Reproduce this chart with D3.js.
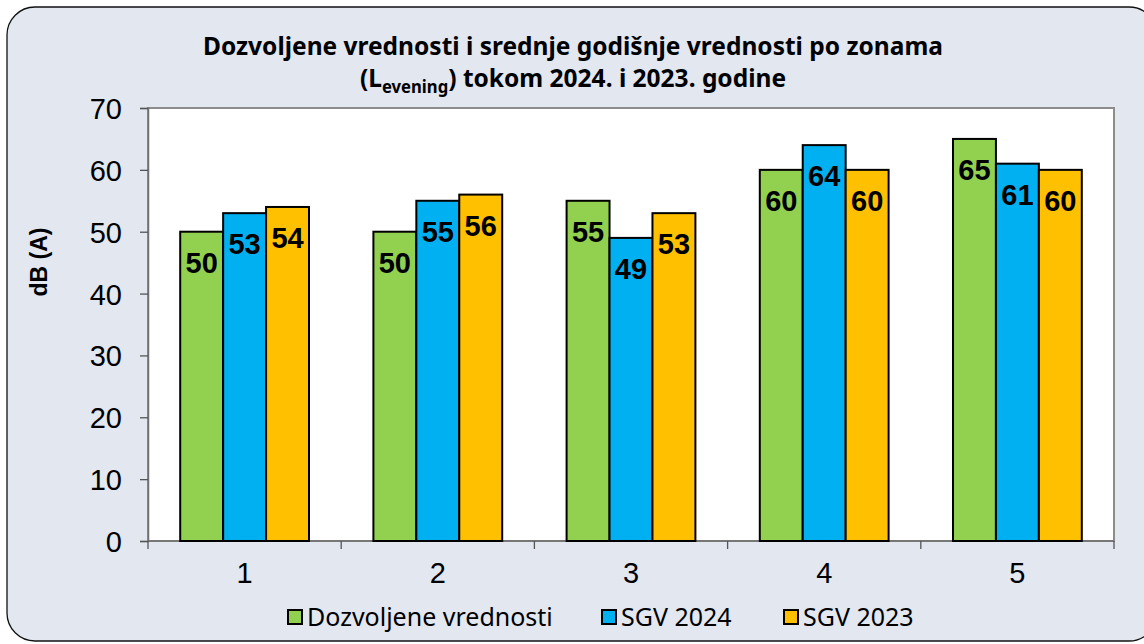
<!DOCTYPE html>
<html>
<head>
<meta charset="utf-8">
<style>
  body { margin: 0; background: #fff; }
  .tick-lbl { font-family: Arial, "Liberation Sans", sans-serif; font-size: 29px; fill: #000; }
  .val-lbl { font-family: Arial, "Liberation Sans", sans-serif; font-size: 29px; font-weight: bold; fill: #000; text-anchor: middle; }
  .legend text { font-family: "Noto Sans", sans-serif; font-size: 25px; fill: #000; }
</style>
</head>
<body>
<svg width="1144" height="644"></svg>
<script src="https://cdnjs.cloudflare.com/ajax/libs/d3/7.8.5/d3.min.js"></script>
<script>
var zones = ["1", "2", "3", "4", "5"];
var series = ["Dozvoljene vrednosti", "SGV 2024", "SGV 2023"];
var dozvoljene = [50, 50, 55, 60, 65];
var sgv2024 = [53, 55, 49, 64, 61];
var sgv2023 = [54, 56, 53, 60, 60];
var yTicks = [0, 10, 20, 30, 40, 50, 60, 70];
var colors = ["#92d050", "#00b0f0", "#ffc000"];

var values = [dozvoljene, sgv2024, sgv2023];

var svg = d3.select("svg"),
    width = +svg.attr("width"),
    height = +svg.attr("height");

// chart area background
svg.append("rect")
    .attr("x", 7).attr("y", 7)
    .attr("width", 1150).attr("height", 634)
    .attr("rx", 28).attr("ry", 28)
    .attr("fill", "#e2e7f0")
    .attr("stroke", "#111")
    .attr("stroke-width", 1.3);

var plot = {left: 148, top: 108, right: 1114, bottom: 541};

var x = d3.scaleBand()
    .domain(zones)
    .range([plot.left, plot.right]);

var xs = d3.scaleBand()
    .domain(series)
    .range([0, x.bandwidth()])
    .paddingOuter(0.75);

var y = d3.scaleLinear()
    .domain([0, 70])
    .range([plot.bottom, plot.top]);

// plot area
svg.append("rect")
    .attr("x", plot.left).attr("y", plot.top)
    .attr("width", plot.right - plot.left)
    .attr("height", plot.bottom - plot.top)
    .attr("fill", "#fff")
    .attr("stroke", "#8c8c8c")
    .attr("stroke-width", 2);

// y axis
var yAxis = svg.append("g")
    .attr("transform", "translate(" + plot.left + ",0)")
    .call(d3.axisLeft(y).tickValues(yTicks).tickSize(8).tickPadding(18));
yAxis.select(".domain").attr("stroke", "#707070").attr("stroke-width", 1.5);
yAxis.selectAll(".tick line").attr("stroke", "#555").attr("stroke-width", 1.3);
yAxis.selectAll(".tick text").attr("class", "tick-lbl").attr("font-family", null).attr("font-size", null).attr("dy", "0.36em");

// x axis: ticks between categories
var xAxis = svg.append("g")
    .attr("transform", "translate(0," + plot.bottom + ")");
xAxis.append("line")
    .attr("x1", plot.left).attr("x2", plot.right)
    .attr("stroke", "#707070").attr("stroke-width", 1.5);
var bounds = zones.map(function(z) { return x(z); }).concat([plot.right]);
xAxis.selectAll(".xtick")
    .data(bounds)
  .enter().append("line")
    .attr("class", "xtick")
    .attr("x1", function(d) { return d; })
    .attr("x2", function(d) { return d; })
    .attr("y1", 0).attr("y2", 8)
    .attr("stroke", "#555").attr("stroke-width", 1.3);
xAxis.selectAll(".xlbl")
    .data(zones)
  .enter().append("text")
    .attr("class", "tick-lbl")
    .attr("x", function(d) { return x(d) + x.bandwidth() / 2; })
    .attr("y", 42)
    .attr("text-anchor", "middle")
    .text(function(d) { return d; });

// bars
var rows = [];
zones.forEach(function(z, i) {
  series.forEach(function(s, j) {
    rows.push({zone: z, series: s, value: values[j][i], color: colors[j]});
  });
});

svg.append("g").selectAll("rect")
    .data(rows)
  .enter().append("rect")
    .attr("x", function(d) { return x(d.zone) + xs(d.series); })
    .attr("y", function(d) { return y(d.value); })
    .attr("width", xs.bandwidth())
    .attr("height", function(d) { return y(0) - y(d.value); })
    .attr("fill", function(d) { return d.color; })
    .attr("stroke", "#000")
    .attr("stroke-width", 2);

svg.append("g").selectAll("text")
    .data(rows)
  .enter().append("text")
    .attr("class", "val-lbl")
    .attr("x", function(d) { return x(d.zone) + xs(d.series) + xs.bandwidth() / 2; })
    .attr("y", function(d) { return y(d.value) + 41; })
    .text(function(d) { return d.value; });

// y axis title
svg.append("text")
    .attr("transform", "translate(47,262) rotate(-90)")
    .attr("text-anchor", "middle")
    .attr("font-family", "Arial, 'Liberation Sans', sans-serif")
    .attr("font-weight", "bold")
    .attr("font-size", 23)
    .text("dB (A)");

// title
var title = svg.append("g")
    .attr("font-family", "'Noto Sans', sans-serif")
    .attr("font-weight", "bold")
    .attr("font-size", 25)
    .attr("text-anchor", "middle");
var t1 = title.append("text")
    .attr("y", 55)
    .text("Dozvoljene vrednosti i srednje godišnje vrednosti po zonama");
var t2 = title.append("text").attr("y", 87);
t2.append("tspan").text("(L");
t2.append("tspan").attr("font-size", 17).attr("dy", 6).text("evening");
t2.append("tspan").attr("dy", -6).text(") tokom 2024. i 2023. godine");
var k = 740 / t1.node().getComputedTextLength();
title.selectAll("text").attr("transform", "translate(573,0) scale(" + k + ",1)");

// legend
var legendX = [287, 601, 783];
var legend = svg.append("g").attr("class", "legend");
var item = legend.selectAll("g")
    .data(series)
  .enter().append("g")
    .attr("transform", function(d, i) { return "translate(" + legendX[i] + ",609)"; });
item.append("rect")
    .attr("x", 1).attr("y", 1)
    .attr("width", 14).attr("height", 14)
    .attr("fill", function(d, i) { return colors[i]; })
    .attr("stroke", "#000")
    .attr("stroke-width", 2);
item.append("text")
    .attr("x", 20)
    .attr("y", 17)
    .text(function(d) { return d; });
</script>
</body>
</html>
